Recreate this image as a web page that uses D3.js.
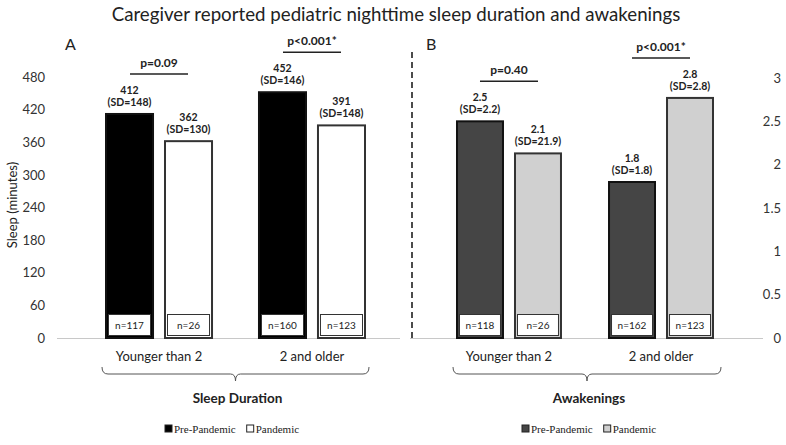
<!DOCTYPE html>
<html><head><meta charset="utf-8">
<script src="https://cdn.jsdelivr.net/npm/d3@7/dist/d3.min.js"></script>
<style>body{margin:0;background:#fff}svg{display:block}</style>
</head><body><svg id="c" width="786" height="445"></svg>
<script>
const groups = ["Younger than 2", "2 and older"];
const series = ["Pre-Pandemic", "Pandemic"];
// Panel A: sleep duration (minutes)
const sleepPre = [412, 452];
const sleepPan = [362, 391];
const sleepSDPre = [148, 146];
const sleepSDPan = [130, 148];
const sleepNPre = [117, 160];
const sleepNPan = [26, 123];
const sleepP = ["p=0.09", "p<0.001*"];
const sleepTicks = [0, 60, 120, 180, 240, 300, 360, 420, 480];
// Panel B: awakenings
const wakePre = [2.5, 1.8];
const wakePan = [2.13, 2.77];
const wakeSDPre = [2.2, 1.8];
const wakeSDPan = [21.9, 2.8];
const wakeNPre = [118, 162];
const wakeNPan = [26, 123];
const wakeP = ["p=0.40", "p<0.001*"];
const wakeTicks = [0, 0.5, 1, 1.5, 2, 2.5, 3];

const svg = d3.select("#c");
const FONT = "Lato, 'Open Sans', sans-serif";

svg.append("text").attr("x", 396).attr("y", 21).attr("text-anchor", "middle")
  .attr("font-family", FONT).attr("font-size", 18.7).attr("fill", "#222")
  .text("Caregiver reported pediatric nighttime sleep duration and awakenings");

function panel(o) {
  const y = d3.scaleLinear().domain([0, o.max]).range([338, o.yTop]);
  const x0 = d3.scaleBand().domain(groups).range(o.xr).paddingInner(o.padIn).paddingOuter(0);
  const x1 = d3.scaleBand().domain(series).range([0, x0.bandwidth()]).paddingInner(o.padSub);
  const g = svg.append("g");
  // baseline
  g.append("line").attr("x1", o.base[0]).attr("x2", o.base[1]).attr("y1", 338.5).attr("y2", 338.5)
    .attr("stroke", "#c8c8c8").attr("stroke-width", 1.2);
  // axis
  const ax = (o.side === "left" ? d3.axisLeft(y) : d3.axisRight(y)).tickValues(o.ticks)
    .tickSize(0).tickPadding(0).tickFormat(o.fmt);
  const axg = g.append("g").attr("transform", `translate(${o.axisX},0)`).call(ax);
  axg.select(".domain").remove();
  axg.selectAll("text").attr("font-family", FONT).attr("font-size", 13).attr("fill", "#333")
    .attr("text-anchor", "end").attr("x", 0).attr("dx", 0);
  const data = [];
  groups.forEach((grp, i) => {
    data.push({grp, s: series[0], v: o.pre[i], sd: o.sdPre[i], n: o.nPre[i]});
    data.push({grp, s: series[1], v: o.pan[i], sd: o.sdPan[i], n: o.nPan[i]});
  });
  const bx = d => x0(d.grp) + x1(d.s);
  const w = x1.bandwidth();
  g.selectAll("rect.bar").data(data).join("rect").attr("class", "bar")
    .attr("x", d => bx(d)).attr("width", w)
    .attr("y", d => y(d.v)).attr("height", d => y(0) - y(d.v))
    .attr("fill", d => d.s === series[0] ? o.cPre : o.cPan)
    .attr("stroke", d => d.s === series[0] ? "#111" : "#333").attr("stroke-width", 2);
  // n boxes
  g.selectAll("rect.nb").data(data).join("rect").attr("class", "nb")
    .attr("x", d => bx(d) + 2.5).attr("width", w - 5).attr("y", 314.5).attr("height", 21)
    .attr("fill", "#fff").attr("stroke", "#333").attr("stroke-width", 1);
  g.selectAll("text.nl").data(data).join("text").attr("class", "nl")
    .attr("x", d => bx(d) + w / 2).attr("y", 329).attr("text-anchor", "middle")
    .attr("font-family", FONT).attr("font-size", 10).attr("fill", "#222").text(d => "n=" + d.n);
  // value labels
  g.selectAll("text.v1").data(data).join("text").attr("class", "v1")
    .attr("x", d => bx(d) + w / 2).attr("y", d => y(d.v) - 20).attr("text-anchor", "middle")
    .attr("font-family", FONT).attr("font-size", 10.5).attr("font-weight", "bold").attr("fill", "#222")
    .text(d => o.vfmt(d.v));
  g.selectAll("text.v2").data(data).join("text").attr("class", "v2")
    .attr("x", d => bx(d) + w / 2).attr("y", d => y(d.v) - 8).attr("text-anchor", "middle")
    .attr("font-family", FONT).attr("font-size", 10.5).attr("font-weight", "bold").attr("fill", "#222")
    .text(d => "(SD=" + d.sd + ")");
  // p-values
  groups.forEach((grp, i) => {
    const top = Math.min(y(o.pre[i]), y(o.pan[i]));
    const ly = top - 40;
    const cx = x0(grp) + x0.bandwidth() / 2;
    g.append("line").attr("x1", cx - 29).attr("x2", cx + 29).attr("y1", ly).attr("y2", ly)
      .attr("stroke", "#222").attr("stroke-width", 1.5);
    g.append("text").attr("x", cx).attr("y", ly - 7).attr("text-anchor", "middle")
      .attr("font-family", FONT).attr("font-size", 12).attr("font-weight", "bold").attr("fill", "#222")
      .text(o.p[i]);
    g.append("text").attr("x", cx).attr("y", 361).attr("text-anchor", "middle")
      .attr("font-family", FONT).attr("font-size", 13).attr("fill", "#222").text(grp);
  });
  // brace
  const [bl, br] = o.brace, bc = (bl + br) / 2;
  g.append("path").attr("d",
    `M${bl},367 Q${bl},374 ${bl + 6},374 L${bc - 5},374 Q${bc},374 ${bc},381 Q${bc},374 ${bc + 5},374 L${br - 6},374 Q${br},374 ${br},367`)
    .attr("fill", "none").attr("stroke", "#555").attr("stroke-width", 1);
  g.append("text").attr("x", bc + 2).attr("y", 403).attr("text-anchor", "middle")
    .attr("font-family", FONT).attr("font-size", 13.5).attr("font-weight", "bold").attr("fill", "#222")
    .text(o.title);
  // legend
  const lg = g.append("g").attr("transform", `translate(${o.legX},429)`);
  let lx = 0;
  series.forEach((s, i) => {
    lg.append("rect").attr("x", lx).attr("y", -4).attr("width", 7).attr("height", 7)
      .attr("fill", i === 0 ? o.cPre : o.cPan).attr("stroke", "#222").attr("stroke-width", 1);
    const t = lg.append("text").attr("x", lx + 9).attr("y", 3.5)
      .attr("font-family", "'Liberation Serif', serif").attr("font-size", 11).attr("fill", "#222").text(s);
    lx += 9 + t.node().getComputedTextLength() + 11;
  });
  // panel letter
  svg.append("text").attr("x", o.letterX).attr("y", 50).attr("font-family", FONT)
    .attr("font-size", 16).attr("fill", "#222").text(o.letter);
}

panel({max: 480, yTop: 77, xr: [106, 365], padIn: 0.307, padSub: 0.203,
  base: [57, 400], side: "left", axisX: 45, ticks: sleepTicks, fmt: d3.format("d"),
  pre: sleepPre, pan: sleepPan, sdPre: sleepSDPre, sdPan: sleepSDPan, nPre: sleepNPre, nPan: sleepNPan,
  p: sleepP, cPre: "#000", cPan: "#fff", vfmt: d => d3.format("d")(d),
  brace: [102, 369], title: "Sleep Duration", legX: 165, letter: "A", letterX: 65});

panel({max: 3, yTop: 78, xr: [457, 713], padIn: 0.316, padSub: 0.207,
  base: [410, 763], side: "right", axisX: 781, ticks: wakeTicks, fmt: d => d3.format("~g")(d),
  pre: wakePre, pan: wakePan, sdPre: wakeSDPre, sdPan: wakeSDPan, nPre: wakeNPre, nPan: wakeNPan,
  p: wakeP, cPre: "#454545", cPan: "#d0d0d0", vfmt: d => d.toFixed(1),
  brace: [453, 721], title: "Awakenings", legX: 522, letter: "B", letterX: 426});

// y-axis title
svg.append("text").attr("transform", "translate(17,205) rotate(-90)").attr("text-anchor", "middle")
  .attr("font-family", FONT).attr("font-size", 13).attr("fill", "#222").text("Sleep (minutes)");
// dashed divider
svg.append("line").attr("x1", 412).attr("x2", 412).attr("y1", 52).attr("y2", 338)
  .attr("stroke", "#111").attr("stroke-width", 1.5).attr("stroke-dasharray", "6,4");
</script></body></html>
